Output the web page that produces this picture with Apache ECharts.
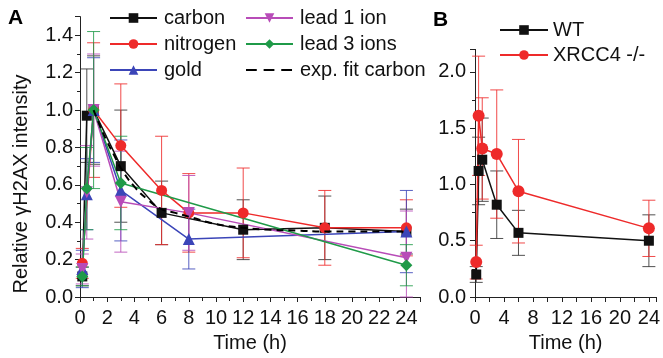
<!DOCTYPE html>
<html>
<head>
<meta charset="utf-8">
<script src="https://cdn.jsdelivr.net/npm/echarts@6/dist/echarts.min.js"></script>
<style>
  html, body { margin: 0; padding: 0; background: #fff; }
  #chart { width: 663px; height: 358px; }
</style>
</head>
<body>
<div id="chart"></div>
<script>
// panel A: time points (h), means, error half-widths
const carbonT = [0.17, 0.5, 1, 3, 6, 12, 18, 24];
const carbonV = [0.11, 0.97, 1.0, 0.70, 0.45, 0.36, 0.37, 0.35];
const carbonE = [0.05, 0.25, 0.29, 0.30, 0.17, 0.16, 0.17, 0.12];

const nitrogenT = [0.17, 1, 3, 6, 8, 12, 18, 24];
const nitrogenV = [0.18, 1.0, 0.81, 0.57, 0.45, 0.45, 0.37, 0.37];
const nitrogenE = [0.08, 0.36, 0.33, 0.29, 0.21, 0.24, 0.20, 0.15];

const goldT = [0.17, 0.5, 1, 3, 8, 24];
const goldV = [0.15, 0.55, 1.0, 0.57, 0.31, 0.35];
const goldE = [0.10, 0.19, 0.28, 0.27, 0.16, 0.22];

const lead1T = [0.17, 0.5, 1, 3, 8, 24];
const lead1V = [0.15, 0.56, 1.0, 0.51, 0.45, 0.21];
const lead1E = [0.08, 0.25, 0.30, 0.27, 0.20, 0.25];

const lead3T = [0.17, 0.5, 1, 3, 24];
const lead3V = [0.11, 0.58, 1.0, 0.61, 0.17];
const lead3E = [0.05, 0.22, 0.42, 0.25, 0.11];

const fitT = [1, 1.5, 2, 2.5, 3, 4, 5, 6, 7, 8, 10, 12, 14, 16, 18, 20, 22, 24];
const fitV = [1.0, 0.91, 0.83, 0.76, 0.69, 0.59, 0.52, 0.47, 0.45, 0.43, 0.39, 0.37, 0.36, 0.355, 0.35, 0.35, 0.35, 0.35];

// panel B
const bT = [0.17, 0.5, 1, 3, 6, 24];
const wtV = [0.20, 1.12, 1.22, 0.82, 0.57, 0.50];
const wtE = [0.07, 0.30, 0.37, 0.30, 0.20, 0.23];
const xrV = [0.31, 1.61, 1.32, 1.27, 0.94, 0.61];
const xrE = [0.15, 0.53, 0.45, 0.57, 0.46, 0.25];

const FONT = 'Liberation Sans, Arial, sans-serif';
const BLACK = '#111';
const RED = '#ee2a2a';
const BLUE = '#3b45b8';
const PURPLE = '#b84cb8';
const GREEN = '#1f9a48';

// dashed legend icon for the fit line (corner dots keep the box 48x12)
const DASH_ICON = 'path://M0,0h0.1v0.1h-0.1z M47.9,11.9h0.1v0.1h-0.1z M0,5h11v2h-11z M18,5h11v2h-11z M36,5h11v2h-11z';

const chart = echarts.init(document.getElementById('chart'));

function lineSeries(name, t, v, color, symbol, size, xi) {
  return {
    name: name,
    type: 'line',
    xAxisIndex: xi,
    yAxisIndex: xi,
    data: t.map((x, i) => [x, v[i]]),
    symbol: symbol,
    symbolSize: size,
    itemStyle: { color: color },
    lineStyle: { color: color, width: 1.5 },
    z: 3
  };
}

function errSeries(name, t, v, e, color, xi) {
  return {
    name: name + ' err',
    type: 'custom',
    xAxisIndex: xi,
    yAxisIndex: xi,
    silent: true,
    z: 2,
    data: t.map((x, i) => [x, Math.max(0, v[i] - e[i]), v[i] + e[i]]),
    encode: { x: 0, y: [1, 2] },
    renderItem: function (params, api) {
      const lo = api.coord([api.value(0), api.value(1)]);
      const hi = api.coord([api.value(0), api.value(2)]);
      const w = 6.5;
      const st = { stroke: color, lineWidth: 1, opacity: 0.85 };
      return {
        type: 'group',
        children: [
          { type: 'line', shape: { x1: lo[0], y1: lo[1], x2: hi[0], y2: hi[1] }, style: st },
          { type: 'line', shape: { x1: hi[0] - w, y1: hi[1], x2: hi[0] + w, y2: hi[1] }, style: st },
          { type: 'line', shape: { x1: lo[0] - w, y1: lo[1], x2: lo[0] + w, y2: lo[1] }, style: st }
        ]
      };
    }
  };
}

const axisLine = { lineStyle: { color: '#222', width: 1 } };
const labelStyle = { color: '#111', fontSize: 20, fontFamily: FONT };
const legendText = { color: '#111', fontSize: 20, fontFamily: FONT, padding: [0, 0, 0, 2] };

const option = {
  animation: false,
  backgroundColor: '#fff',
  textStyle: { fontFamily: FONT },
  grid: [
    { left: 80, top: 16.6, width: 340, height: 283.9 },
    { left: 475, top: 49.4, width: 182.3, height: 248.6 }
  ],
  xAxis: [
    {
      gridIndex: 0, type: 'value', min: 0, max: 25, interval: 2,
      name: 'Time (h)', nameLocation: 'middle', nameGap: 36,
      nameTextStyle: { color: '#111', fontSize: 20, fontFamily: FONT },
      axisLine: axisLine,
      axisTick: { show: true, length: 5, lineStyle: { color: '#222' } },
      minorTick: { show: true, splitNumber: 2, length: 4, lineStyle: { color: '#222' } },
      splitLine: { show: false },
      axisLabel: Object.assign({ margin: 11, showMaxLabel: false }, labelStyle)
    },
    {
      gridIndex: 1, type: 'value', min: 0, max: 25, interval: 4,
      name: 'Time (h)', nameLocation: 'middle', nameGap: 36,
      nameTextStyle: { color: '#111', fontSize: 20, fontFamily: FONT },
      axisLine: axisLine,
      axisTick: { show: true, length: 5, lineStyle: { color: '#222' } },
      minorTick: { show: true, splitNumber: 2, length: 5, lineStyle: { color: '#222' } },
      splitLine: { show: false },
      axisLabel: Object.assign({ margin: 11, showMaxLabel: false }, labelStyle)
    }
  ],
  yAxis: [
    {
      gridIndex: 0, type: 'value', min: 0, max: 1.5, interval: 0.2,
      axisLine: Object.assign({ show: true }, axisLine),
      axisTick: { show: true, length: 5, lineStyle: { color: '#222' } },
      minorTick: { show: true, splitNumber: 2, length: 3, lineStyle: { color: '#222' } },
      splitLine: { show: false },
      axisLabel: Object.assign({ margin: 7, showMaxLabel: false, formatter: v => v.toFixed(1) }, labelStyle)
    },
    {
      gridIndex: 1, type: 'value', min: 0, max: 2.2, interval: 0.5,
      axisLine: Object.assign({ show: true }, axisLine),
      axisTick: { show: true, length: 5, lineStyle: { color: '#222' } },
      minorTick: { show: true, splitNumber: 2, length: 3, lineStyle: { color: '#222' } },
      splitLine: { show: false },
      axisLabel: Object.assign({ margin: 9, showMaxLabel: false, formatter: v => v.toFixed(1) }, labelStyle)
    }
  ],
  legend: [
    {
      data: ['carbon', 'nitrogen', 'gold'],
      orient: 'vertical', left: 104, top: 3,
      itemWidth: 47, itemHeight: 12, itemGap: 6,
      textStyle: legendText
    },
    {
      data: ['lead 1 ion', 'lead 3 ions', { name: 'exp. fit carbon', icon: DASH_ICON }],
      orient: 'vertical', left: 240, top: 3,
      itemWidth: 47, itemHeight: 12, itemGap: 6,
      textStyle: legendText
    },
    {
      data: ['WT', 'XRCC4 -/-'],
      orient: 'vertical', left: 494, top: 15,
      itemWidth: 48, itemHeight: 12, itemGap: 5,
      textStyle: { color: '#111', fontSize: 20, fontFamily: FONT, padding: [0, 0, 0, 0] }
    }
  ],
  graphic: [
    { type: 'text', left: 8, top: 8, style: { text: 'A', font: 'bold 21px ' + FONT, fill: '#000' } },
    { type: 'text', left: 433, top: 10, style: { text: 'B', font: 'bold 21px ' + FONT, fill: '#000' } },
    {
      type: 'text', x: 21, y: 184, rotation: Math.PI / 2,
      style: { text: 'Relative \u03B3H2AX intensity', font: '20px ' + FONT, fill: '#111', align: 'center', verticalAlign: 'middle' }
    }
  ],
  series: [
    errSeries('carbon', carbonT, carbonV, carbonE, '#333', 0),
    errSeries('nitrogen', nitrogenT, nitrogenV, nitrogenE, RED, 0),
    errSeries('gold', goldT, goldV, goldE, BLUE, 0),
    errSeries('lead 1 ion', lead1T, lead1V, lead1E, PURPLE, 0),
    errSeries('lead 3 ions', lead3T, lead3V, lead3E, GREEN, 0),
    lineSeries('carbon', carbonT, carbonV, BLACK, 'rect', 10, 0),
    lineSeries('nitrogen', nitrogenT, nitrogenV, RED, 'circle', 11, 0),
    lineSeries('gold', goldT, goldV, BLUE, 'triangle', 12, 0),
    Object.assign(lineSeries('lead 1 ion', lead1T, lead1V, PURPLE, 'triangle', 12, 0), { symbolRotate: 180 }),
    lineSeries('lead 3 ions', lead3T, lead3V, GREEN, 'diamond', 12, 0),
    {
      name: 'exp. fit carbon', type: 'line', xAxisIndex: 0, yAxisIndex: 0,
      data: fitT.map((x, i) => [x, fitV[i]]),
      symbol: 'none', smooth: true,
      itemStyle: { color: '#000' },
      lineStyle: { color: '#000', width: 2, type: [7, 5] },
      z: 4
    },
    errSeries('WT', bT, wtV, wtE, '#333', 1),
    errSeries('XRCC4', bT, xrV, xrE, RED, 1),
    lineSeries('WT', bT, wtV, BLACK, 'rect', 10, 1),
    lineSeries('XRCC4 -/-', bT, xrV, RED, 'circle', 12, 1)
  ]
};

chart.setOption(option);
</script>
</body>
</html>
